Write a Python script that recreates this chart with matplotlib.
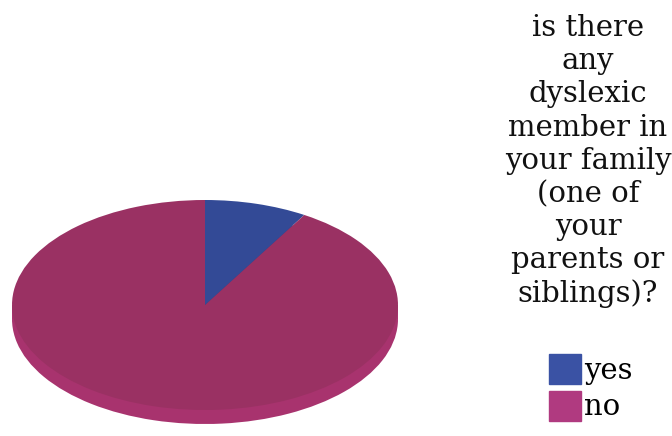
import matplotlib.pyplot as plt
from matplotlib.patches import Rectangle

labels = ["yes", "no"]
shares = [8.6, 91.4]
top_colors = ["#334a96", "#9a3163"]
side_colors = ["#2c3f82", "#a8336e"]
legend_colors = ["#3a52a4", "#b03a80"]
title = "is there\nany\ndyslexic\nmember in\nyour family\n(one of\nyour\nparents or\nsiblings)?"

W, H = 672, 436
fig = plt.figure(figsize=(W / 100, H / 100), dpi=100)

# pie area: ellipse x 12..398 px, top face y 200..410 px (from top)
ax = fig.add_axes([0, 0, 420 / W, 1])
sx = 193.0
sy = 105.0
cy = H - 305

depth = 14 / sy
# side of the disc: lower pie plus a band joining it to the top face
ax.pie(shares, colors=side_colors, startangle=90, counterclock=False,
       center=(0, -depth), radius=1, frame=True)
ax.add_patch(Rectangle((-1, -depth), 2, depth, facecolor=side_colors[1],
                       linewidth=0, zorder=0.5))
wedges, _ = ax.pie(shares, colors=top_colors, startangle=90, counterclock=False,
                   center=(0, 0), radius=1, frame=True)
for w in wedges:
    w.set_zorder(2)
ax.set_xlim(-1 - 12 / sx, 1 + 22 / sx)
ax.set_ylim(-cy / sy, (H - cy) / sy)
ax.set_aspect("auto")
ax.axis("off")

fs = 21
fig.text(588 / W, 1 - 14 / H, title, ha="center", va="top", family="DejaVu Serif",
         fontsize=fs, linespacing=1.235, color="#111111")

handles = [Rectangle((0, 0), 1, 1, color=c) for c in legend_colors]
fig.legend(handles, labels, loc="upper left", bbox_to_anchor=(549 / W, 1 - 354 / H),
           frameon=False, prop={"family": "DejaVu Serif", "size": fs},
           handlelength=1.1, handleheight=1.2, handletextpad=0.1,
           labelspacing=0.2, borderpad=0, borderaxespad=0)

fig.savefig("out.png", dpi=100)
